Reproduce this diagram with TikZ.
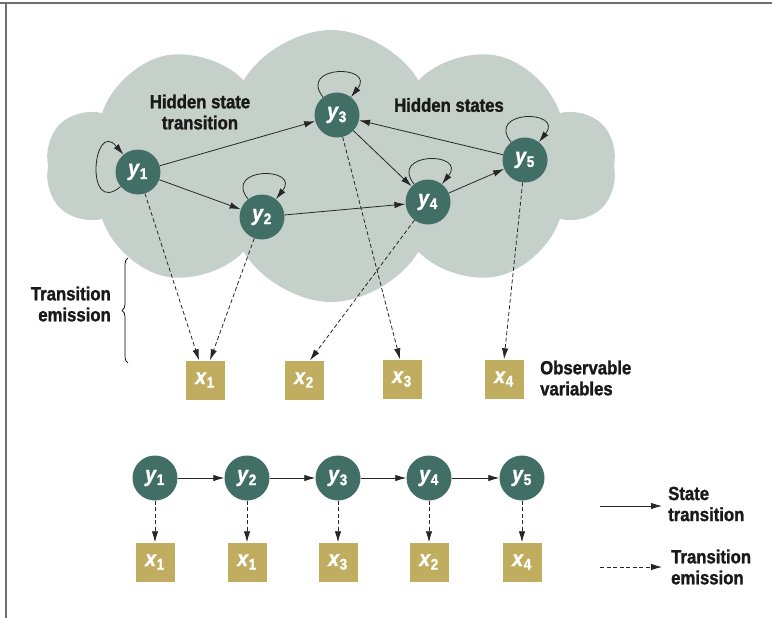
\documentclass[tikz,border=0pt]{standalone}
\usepackage{fontspec}
\setmainfont{Liberation Sans}[FakeStretch=0.88, BoldFeatures={FakeBold=1.4}, BoldItalicFeatures={FakeBold=1.4}]
\definecolor{stategreen}{HTML}{416F66}
\definecolor{obsgold}{HTML}{C0AD5F}
\definecolor{cloudgrey}{HTML}{C6D0CA}
\definecolor{framegrey}{HTML}{6E6E6E}
\usetikzlibrary{arrows.meta, shapes.symbols, decorations.pathreplacing}
\newcommand{\ylab}[1]{\textit{y}\textsubscript{#1}}
\newcommand{\xlab}[1]{\textit{x}\textsubscript{#1}}
\tikzset{
	hstate/.style = {circle, fill = stategreen, minimum size = 45pt, inner sep = 0pt, text = white, font = \fontsize{22}{22}\selectfont\bfseries},
	obs/.style = {rectangle, fill = obsgold, minimum size = 39pt, inner sep = 0pt, text = white, font = \fontsize{22}{22}\selectfont\bfseries},
	trans/.style = {-{Latex[length=11pt, width=6.5pt]}, line width = 0.8pt, draw = black!85},
	emit/.style = {trans, dash pattern = on 4pt off 2.5pt},
	lbl/.style = {font = \fontsize{19}{21}\selectfont\bfseries, text = black!90, inner sep = 0pt}
}

\begin{document}
\begin{tikzpicture}[x = 1pt, y = -1pt]
	\useasboundingbox (0,0) rectangle (772,618);
	\draw[line width = 2pt, color = framegrey] (0,3) -- (772,3);
	\draw[line width = 2pt, color = framegrey] (6,3) -- (6,618);
	\node[cloud, cloud puffs = 10, cloud puff arc = 120, aspect = 2.1, fill = cloudgrey, minimum width = 570pt, minimum height = 272pt] at (331,166) (cloud) {};
	\node[lbl, align = center] at (200,112) (hst) {Hidden state\\transition};
	\node[lbl] at (449,105) (hs) {Hidden states};
	\node[hstate] at (138,172) (y1) {\ylab{1}};
	\node[hstate] at (262,217) (y2) {\ylab{2}};
	\node[hstate] at (337,115) (y3) {\ylab{3}};
	\node[hstate] at (428,202) (y4) {\ylab{4}};
	\node[hstate] at (525,160) (y5) {\ylab{5}};
	\node[obs] at (205,380) (x1) {\xlab{1}};
	\node[obs] at (304,380) (x2) {\xlab{2}};
	\node[obs] at (402,379) (x3) {\xlab{3}};
	\node[obs] at (504,379) (x4) {\xlab{4}};
	\node[lbl, align = left, anchor = west] at (540,378) (ov) {Observable\\variables};
	\node[lbl, align = right, anchor = east] at (111,304) (te) {Transition\\emission};
	\draw[trans] (y1) to[out = 220, in = 130, looseness = 3.8] (y1);
	\draw[trans] (y2) to[out = 128, in = 52, looseness = 3.8] (y2);
	\draw[trans] (y3) to[out = 128, in = 52, looseness = 3.8] (y3);
	\draw[trans] (y4) to[out = 128, in = 52, looseness = 3.8] (y4);
	\draw[trans] (y5) to[out = 128, in = 52, looseness = 3.8] (y5);
	\draw[trans] (y1) -- (y3);
	\draw[trans] (y1) -- (y2);
	\draw[trans] (y2) -- (y4);
	\draw[trans] (y3) -- (y4);
	\draw[trans] (y4) -- (y5);
	\draw[trans] (y5) -- (y3);
	\draw[emit] (y1) -- ([xshift = -6pt]x1.north);
	\draw[emit] (y2) -- ([xshift = 5pt]x1.north);
	\draw[emit] (y4) -- ([xshift = 6pt]x2.north);
	\draw[emit] (y3) -- ([xshift = -2pt]x3.north);
	\draw[emit] (y5) -- (x4.north);
	\draw[decorate, decoration = {brace, amplitude = 6pt}, line width = 0.7pt] (128,363) -- (128,258);
	\node[hstate] at (155,478) (b1) {\ylab{1}};
	\node[hstate] at (247,478) (b2) {\ylab{2}};
	\node[hstate] at (338,478) (b3) {\ylab{3}};
	\node[hstate] at (429,478) (b4) {\ylab{4}};
	\node[hstate] at (522,478) (b5) {\ylab{5}};
	\node[obs] at (155,562) (c1) {\xlab{1}};
	\node[obs] at (247,562) (c2) {\xlab{1}};
	\node[obs] at (338,562) (c3) {\xlab{3}};
	\node[obs] at (429,562) (c4) {\xlab{2}};
	\node[obs] at (522,562) (c5) {\xlab{4}};
	\draw[trans] (b1) -- (b2);
	\draw[trans] (b2) -- (b3);
	\draw[trans] (b3) -- (b4);
	\draw[trans] (b4) -- (b5);
	\draw[emit] (b1) -- (c1);
	\draw[emit] (b2) -- (c2);
	\draw[emit] (b3) -- (c3);
	\draw[emit] (b4) -- (c4);
	\draw[emit] (b5) -- (c5);
	\coordinate (s1) at (600,506);
	\coordinate (s2) at (662,506);
	\coordinate (e1) at (600,567);
	\coordinate (e2) at (662,567);
	\draw[trans] (s1) -- (s2);
	\draw[emit] (e1) -- (e2);
	\node[lbl, align = left, anchor = west] at (668,504) (stl) {State\\transition};
	\node[lbl, align = left, anchor = west] at (671,567) (tel) {Transition\\emission};
\end{tikzpicture}
\end{document}
